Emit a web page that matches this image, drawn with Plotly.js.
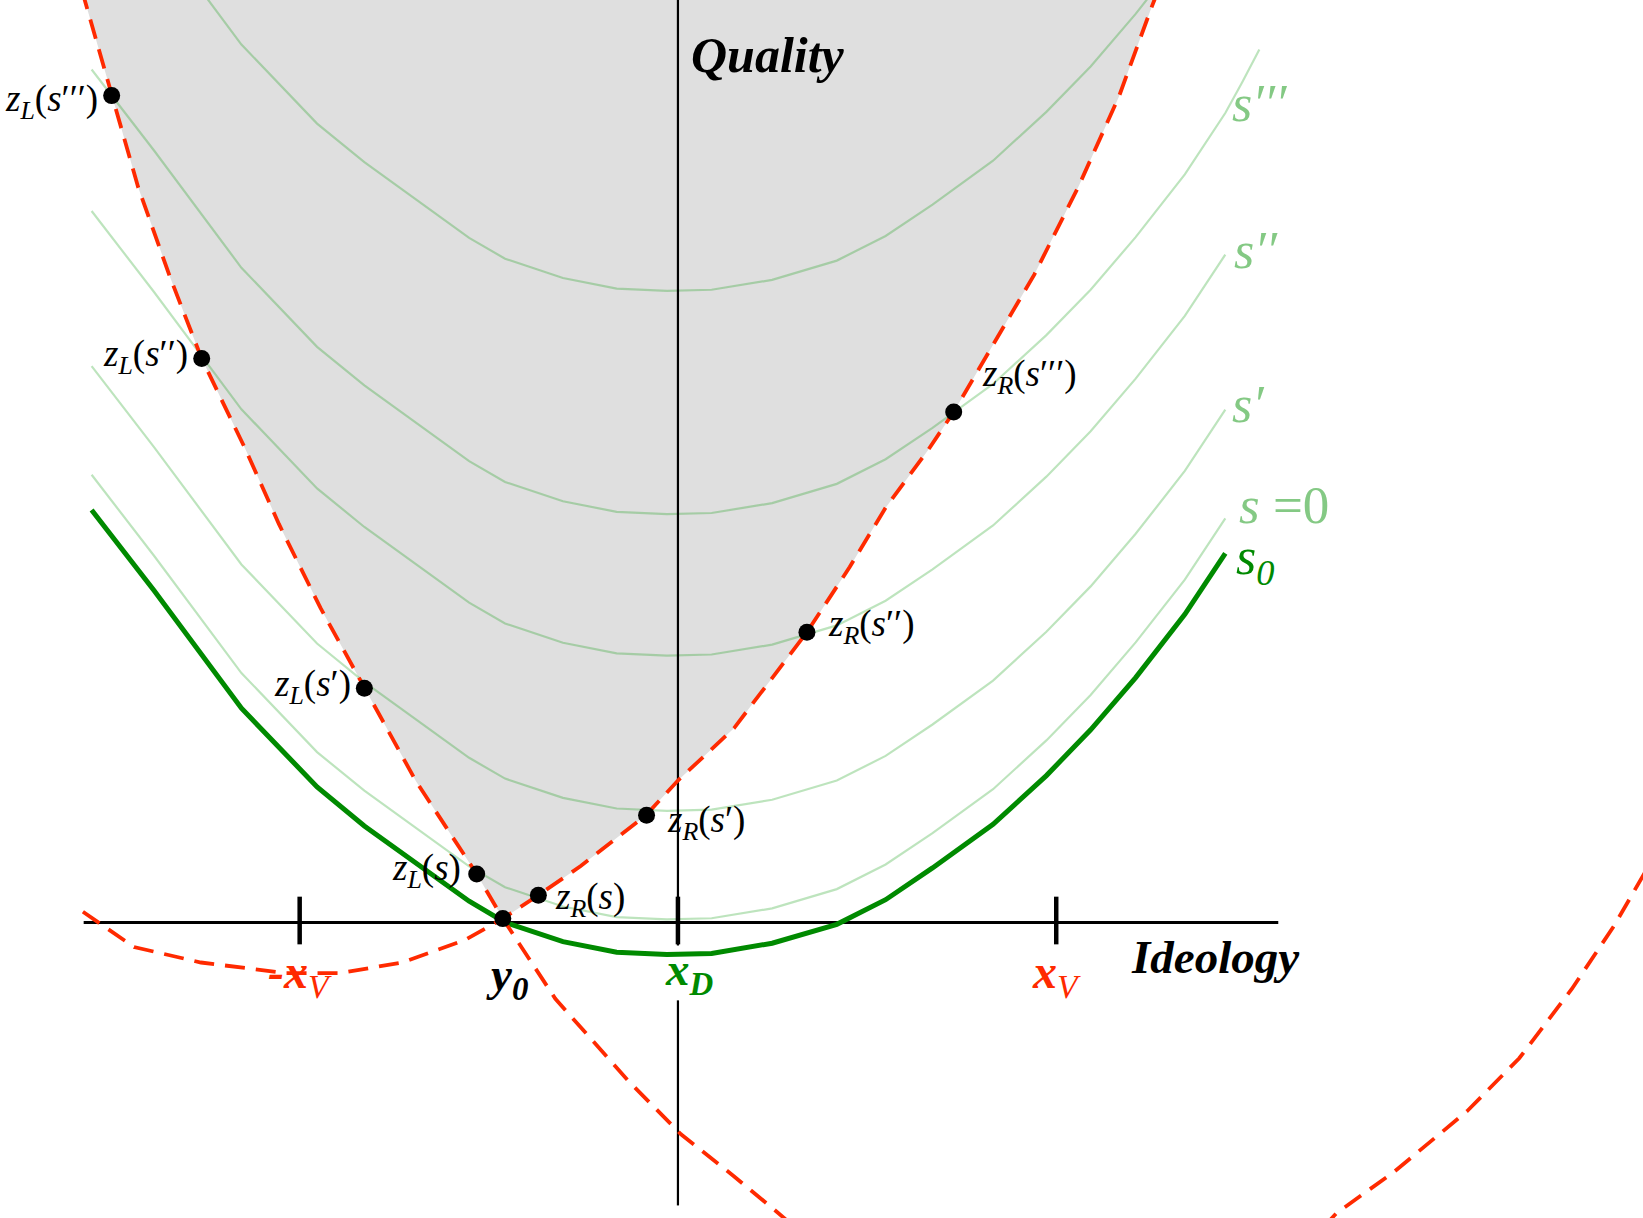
<!DOCTYPE html>
<html><head><meta charset="utf-8">
<script src="https://cdn.plot.ly/plotly-3.0.1.min.js"></script>
<style>html,body{margin:0;padding:0;background:#fff}#chart{width:1643px;height:1218px}</style>
</head><body><div id="chart"></div>
<script>
// ---- Data (ideology units: x_D = 0, x_V = 1; quality on same scale) ----
const tickValues = [-1, 0, 1];
const tickExtent = [0.068, -0.058];
const horizontalAxisX = [-1.571, 1.587];
const verticalAxisUpperY = [2.45, -0.061];
const verticalAxisLowerY = [-0.206, -0.748];

// iso-utility curves (shared x samples)
const curveX = [-1.550, -1.450, -1.385, -1.154, -0.954, -0.829, -0.699, -0.552, -0.457, -0.304, -0.162, -0.029, 0.089, 0.249, 0.420, 0.549, 0.673, 0.833, 0.974, 1.091, 1.210, 1.340, 1.447];
const curveTopY = [2.844, 2.714, 2.630, 2.320, 2.111, 2.009, 1.916, 1.809, 1.754, 1.703, 1.675, 1.669, 1.672, 1.698, 1.749, 1.814, 1.897, 2.013, 2.142, 2.262, 2.401, 2.567, 2.729];
const curveS3X = [-1.550, -1.450, -1.385, -1.154, -0.954, -0.829, -0.699, -0.552, -0.457, -0.304, -0.162, -0.029, 0.089, 0.249, 0.420, 0.549, 0.673, 0.833, 0.974, 1.091, 1.210, 1.340, 1.447, 1.491, 1.537];
const curveS3Y = [2.254, 2.124, 2.040, 1.730, 1.521, 1.419, 1.326, 1.219, 1.164, 1.113, 1.085, 1.079, 1.082, 1.108, 1.159, 1.224, 1.307, 1.423, 1.552, 1.672, 1.811, 1.977, 2.139, 2.219, 2.307];
const curveS2Y = [1.880, 1.750, 1.666, 1.356, 1.147, 1.045, 0.952, 0.845, 0.790, 0.739, 0.711, 0.705, 0.708, 0.734, 0.785, 0.850, 0.933, 1.049, 1.178, 1.298, 1.437, 1.603, 1.765];
const curveS1Y = [1.470, 1.340, 1.256, 0.946, 0.737, 0.635, 0.542, 0.435, 0.380, 0.329, 0.301, 0.295, 0.298, 0.324, 0.375, 0.440, 0.523, 0.639, 0.768, 0.888, 1.027, 1.193, 1.355];
const curveSZeroY = [1.183, 1.053, 0.969, 0.659, 0.450, 0.348, 0.255, 0.148, 0.093, 0.042, 0.014, 0.008, 0.011, 0.037, 0.088, 0.153, 0.236, 0.352, 0.481, 0.601, 0.740, 0.906, 1.068];
const curveS0Y = [1.090, 0.960, 0.877, 0.566, 0.358, 0.255, 0.163, 0.056, 0.000, -0.051, -0.079, -0.085, -0.082, -0.055, -0.005, 0.060, 0.144, 0.259, 0.388, 0.509, 0.647, 0.814, 0.975];

// red dashed boundary centred on x_V (left branch, then right branch)
const boundLX = [-1.576, -1.497, -1.427, -1.343, -1.259, -1.144, -1.055, -0.945, -0.829, -0.693, -0.532, -0.463, -0.324, -0.130, 0.008, 0.147, 0.258, 0.313];
const boundLY = [2.465, 2.185, 1.943, 1.706, 1.490, 1.252, 1.053, 0.831, 0.619, 0.374, 0.128, 0.010, -0.202, -0.420, -0.560, -0.670, -0.762, -0.809];
const boundLFarX = [1.704, 1.740, 1.892, 2.086, 2.224, 2.363, 2.474, 2.551, 2.584];
const boundLFarY = [-0.809, -0.769, -0.660, -0.499, -0.359, -0.176, -0.010, 0.121, 0.180];
// red dashed boundary centred on -x_V
const boundRX = [-1.573, -1.438, -1.261, -1.036, -0.895, -0.729, -0.564, -0.463, -0.369, -0.257, -0.085, 0.000, 0.148, 0.341, 0.454, 0.549, 0.661, 0.729, 0.835, 0.942, 1.059, 1.166, 1.253, 1.266];
const boundRY = [0.028, -0.065, -0.106, -0.134, -0.134, -0.106, -0.047, 0.010, 0.072, 0.149, 0.283, 0.375, 0.513, 0.767, 0.939, 1.096, 1.248, 1.349, 1.530, 1.712, 1.945, 2.183, 2.421, 2.454];

// marked points
const zLX = [-1.497, -1.259, -0.829, -0.532];
const zLY = [2.185, 1.490, 0.619, 0.128];
const zRX = [-0.369, -0.083, 0.341, 0.729];
const zRY = [0.072, 0.283, 0.767, 1.349];
const zLPrimes = ['′′′', '′′', '′', ''];
const zRPrimes = ['', '′', '′′', '′′′'];
const y0X = [-0.463];
const y0Y = [0.010];

// ---- styles ----
const FONT = "'Liberation Serif', 'Times New Roman', Times, serif";
const RED = '#ff2a00';
const DARKGREEN = '#008a00';
const THIN_GREEN = 'rgba(0,150,0,0.26)';
const LABEL_GREEN = '#84c984';

const traces = [];

// grey admissible region (above both red boundaries)
const iY0L = boundLY.indexOf(0.010);
const iY0R = boundRX.indexOf(-0.463);
const fillX = boundLX.slice(0, iY0L + 1).concat(boundRX.slice(iY0R + 1));
const fillY = boundLY.slice(0, iY0L + 1).concat(boundRY.slice(iY0R + 1));
traces.push({x: fillX, y: fillY, mode: 'lines', fill: 'toself', fillcolor: '#dfdfdf', line: {width: 0, color: '#dfdfdf'}, hoverinfo: 'skip'});

// thin iso curves
[[curveX, curveTopY], [curveS3X, curveS3Y], [curveX, curveS2Y], [curveX, curveS1Y], [curveX, curveSZeroY]].forEach(([xs, ys]) => {
  traces.push({x: xs, y: ys, mode: 'lines', line: {color: THIN_GREEN, width: 2.2}, hoverinfo: 'skip'});
});

// axes
traces.push({x: horizontalAxisX, y: [0, 0], mode: 'lines', line: {color: '#000', width: 3}, hoverinfo: 'skip'});
traces.push({x: [0, 0], y: verticalAxisUpperY, mode: 'lines', line: {color: '#000', width: 2.2}, hoverinfo: 'skip'});
traces.push({x: [0, 0], y: verticalAxisLowerY, mode: 'lines', line: {color: '#000', width: 2.2}, hoverinfo: 'skip'});
const tx = [], ty = [];
tickValues.forEach(v => { tx.push(v, v, null); ty.push(tickExtent[0], tickExtent[1], null); });
traces.push({x: tx, y: ty, mode: 'lines', line: {color: '#000', width: 4.5}, hoverinfo: 'skip'});

// thick s0 curve
traces.push({x: curveX, y: curveS0Y, mode: 'lines', line: {color: DARKGREEN, width: 5}, hoverinfo: 'skip'});

// red dashed boundaries
[[boundLX, boundLY], [boundLFarX, boundLFarY], [boundRX, boundRY]].forEach(([xs, ys]) => {
  traces.push({x: xs, y: ys, mode: 'lines', line: {color: RED, width: 3.8, dash: '20px,11px'}, hoverinfo: 'skip'});
});

// dots
traces.push({x: zLX.concat(zRX, y0X), y: zLY.concat(zRY, y0Y), mode: 'markers', marker: {color: '#000', size: 17}, hoverinfo: 'skip'});

// ---- annotations ----
const ann = [];
const zLShift = [[-12, -6], [-12, 2], [-11, 2], [-14, 3]];
const zRShift = [[15, -4], [18, -7], [19, 6], [26, 35]];
zLX.forEach((x, i) => ann.push({x: x, y: zLY[i], xref: 'x', yref: 'y', showarrow: false, xanchor: 'right', yanchor: 'middle',
  xshift: zLShift[i][0], yshift: zLShift[i][1], text: '<i>z</i><sub><i>L</i></sub>(<i>s</i>' + zLPrimes[i] + ')',
  font: {family: FONT, size: 37, color: '#000'}}));
zRX.forEach((x, i) => ann.push({x: x, y: zRY[i], xref: 'x', yref: 'y', showarrow: false, xanchor: 'left', yanchor: 'middle',
  xshift: zRShift[i][0], yshift: zRShift[i][1], text: '<i>z</i><sub><i>R</i></sub>(<i>s</i>' + zRPrimes[i] + ')',
  font: {family: FONT, size: 37, color: '#000'}}));

function lab(x, y, text, size, color, xanchor) {
  ann.push({x: x, y: y, xref: 'x', yref: 'y', showarrow: false, xanchor: xanchor || 'center', yanchor: 'middle', text: text,
    font: {family: FONT, size: size, color: color}});
}
lab(0.237, 2.292, '<b><i>Quality</i></b>', 50, '#000');
lab(1.419, -0.092, '<b><i>Ideology</i></b>', 47, '#000');
lab(-0.998, -0.140, '<b><i>-x</i></b><sub><i>V</i></sub>', 48, RED);
lab(-0.452, -0.145, '<b><i>y</i><sub><i>0</i></sub></b>', 47, '#000');
lab(0.030, -0.133, '<b><i>x</i><sub><i>D</i></sub></b>', 47, DARKGREEN);
lab(1.002, -0.140, '<b><i>x</i></b><sub><i>V</i></sub>', 48, RED);
lab(1.460, 2.165, '<i>s′′′</i>', 52, LABEL_GREEN, 'left');
lab(1.465, 1.775, '<i>s′′</i>', 52, LABEL_GREEN, 'left');
lab(1.460, 1.370, '<i>s′</i>', 52, LABEL_GREEN, 'left');
lab(1.478, 1.103, '<i>s</i> =0', 53, LABEL_GREEN, 'left');
lab(1.470, 0.957, '<i>s</i><sub><i>0</i></sub>', 52, DARKGREEN, 'left');

const layout = {
  width: 1643, height: 1218,
  margin: {l: 0, r: 0, t: 0, b: 0, pad: 0},
  paper_bgcolor: '#fff', plot_bgcolor: '#fff',
  showlegend: false,
  xaxis: {range: [-1.7922, 2.5512], visible: false, showgrid: false, zeroline: false, fixedrange: true},
  yaxis: {range: [-0.7812, 2.4377], visible: false, showgrid: false, zeroline: false, fixedrange: true},
  annotations: ann
};
Plotly.newPlot('chart', traces, layout, {staticPlot: true, displayModeBar: false});
</script></body></html>
